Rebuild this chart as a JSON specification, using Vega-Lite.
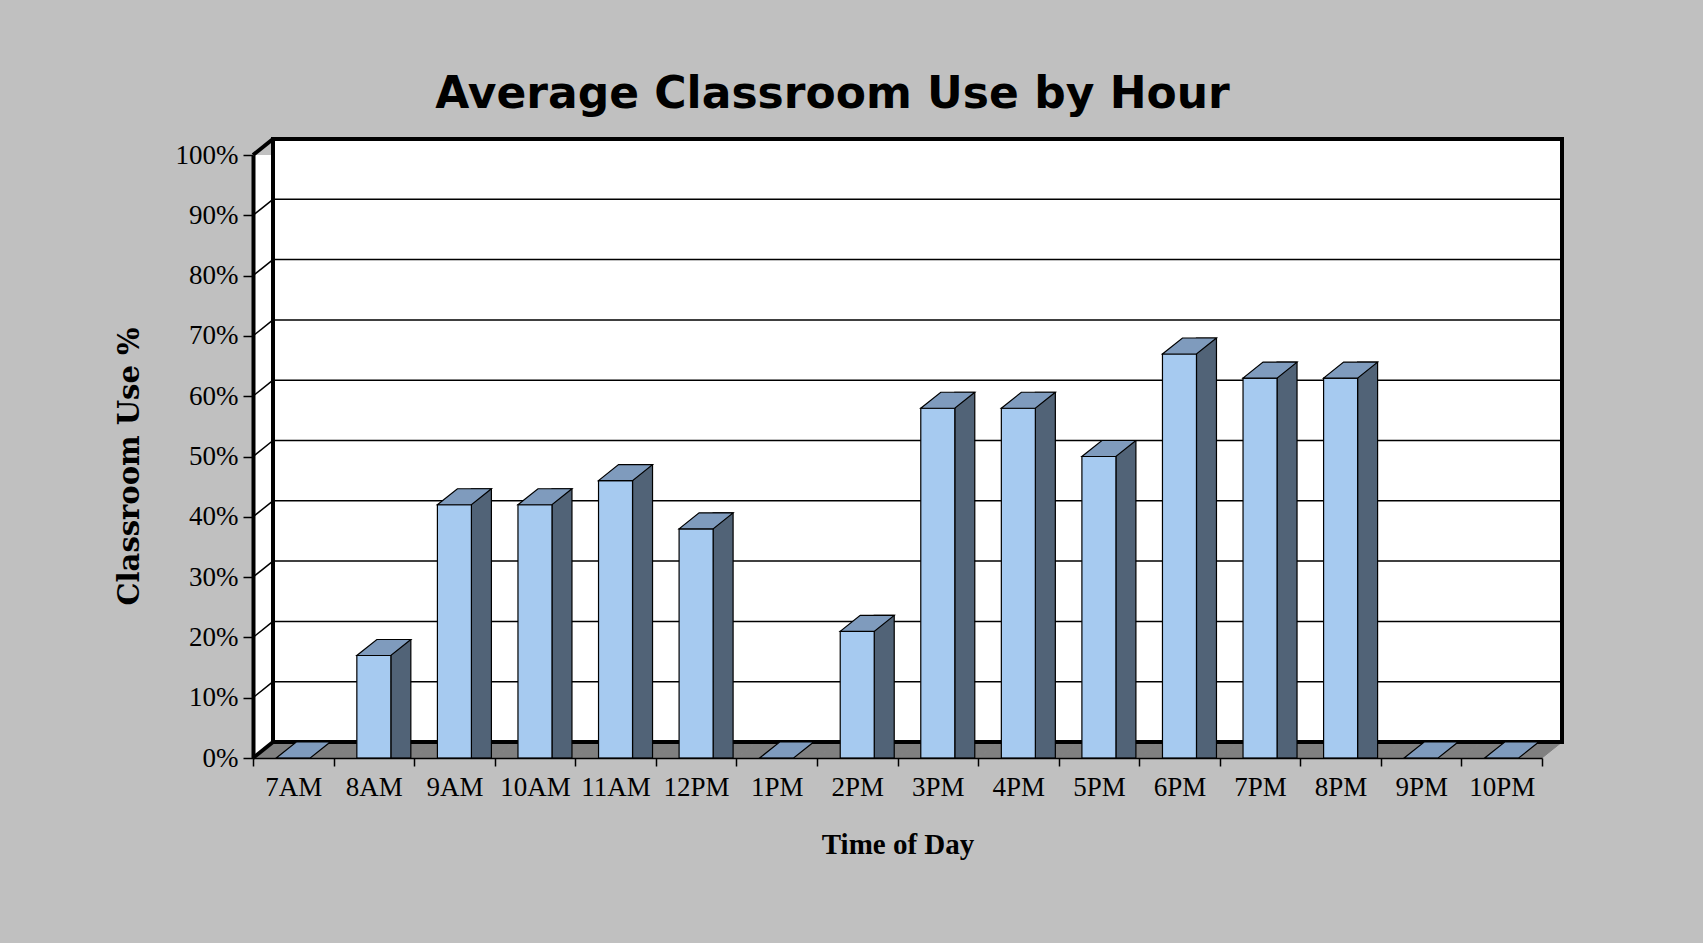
{
  "$schema": "https://vega.github.io/schema/vega-lite/v6.json",
  "autosize": {"type": "none"},
  "width": 1289,
  "height": 603,
  "padding": {"left": 253, "top": 155, "right": 161, "bottom": 185},
  "background": "#c0c0c0",
  "config": {"view": {"stroke": null}},
  "title": {
    "text": "Average Classroom Use by Hour",
    "font": "DejaVu Sans",
    "fontWeight": "bold",
    "fontSize": 44,
    "color": "#000000",
    "anchor": "middle",
    "dx": -65,
    "baseline": "alphabetic",
    "offset": -21
  },
  "datasets": {
    "usage": [
      {"hour": "7AM", "use": 0},
      {"hour": "8AM", "use": 0.17},
      {"hour": "9AM", "use": 0.42},
      {"hour": "10AM", "use": 0.42},
      {"hour": "11AM", "use": 0.46},
      {"hour": "12PM", "use": 0.38},
      {"hour": "1PM", "use": 0},
      {"hour": "2PM", "use": 0.21},
      {"hour": "3PM", "use": 0.58},
      {"hour": "4PM", "use": 0.58},
      {"hour": "5PM", "use": 0.5},
      {"hour": "6PM", "use": 0.67},
      {"hour": "7PM", "use": 0.63},
      {"hour": "8PM", "use": 0.63},
      {"hour": "9PM", "use": 0},
      {"hour": "10PM", "use": 0}
    ],
    "levels": [
      {"v": 0}, {"v": 0.1}, {"v": 0.2}, {"v": 0.3}, {"v": 0.4}, {"v": 0.5},
      {"v": 0.6}, {"v": 0.7}, {"v": 0.8}, {"v": 0.9}, {"v": 1}
    ],
    "wall": [{"lo": 0, "hi": 1}]
  },
  "encoding": {
    "x": {
      "field": "hour",
      "type": "nominal",
      "sort": null,
      "scale": {"domain": ["7AM","8AM","9AM","10AM","11AM","12PM","1PM","2PM","3PM","4PM","5PM","6PM","7PM","8PM","9PM","10PM"], "paddingInner": 0, "paddingOuter": 0},
      "axis": {
        "title": "Time of Day",
        "titleFont": "Liberation Serif",
        "titleFontWeight": "bold",
        "titleFontSize": 29,
        "titleColor": "#000000",
        "titlePadding": 30,
        "labelFont": "Liberation Serif",
        "labelFontSize": 27,
        "labelColor": "#000000",
        "labelAngle": 0,
        "labelPadding": 8,
        "tickBand": "extent",
        "tickColor": "#000000",
        "tickWidth": 1.5,
        "tickSize": 8,
        "domainColor": "#000000",
        "domainWidth": 1.5,
        "zindex": 1
      }
    }
  },
  "layer": [
    {
      "data": {"name": "wall"},
      "mark": {"type": "rect", "fill": "#ffffff", "strokeWidth": 0},
      "encoding": {
        "x": null,
        "y": {
          "field": "hi",
          "type": "quantitative",
          "scale": {"domain": [0, 1], "nice": false, "zero": true},
          "axis": {
            "values": [0,0.1,0.2,0.3,0.4,0.5,0.6,0.7,0.8,0.9,1],
            "format": ".0%",
            "title": "Classroom Use %",
            "titleFont": "DejaVu Serif",
            "titleFontWeight": "bold",
            "titleFontSize": 29,
            "titleColor": "#000000",
            "titlePadding": 31,
            "titleY": 311,
            "labelFont": "Liberation Serif",
            "labelFontSize": 27,
            "labelColor": "#000000",
            "labelPadding": 5,
            "tickColor": "#000000",
            "tickWidth": 1.5,
            "tickSize": 10,
            "domainColor": "#000000",
            "domainWidth": 4,
            "grid": false,
            "zindex": 1
          }
        },
        "y2": {"field": "lo"}
      }
    },
    {
      "data": {"name": "usage"},
      "mark": {"type": "point", "shape": "M -1 0.159 L 0.602 0.159 L 1 -0.159 L -0.602 -0.159 Z", "size": 10112, "filled": true, "fill": "#808080", "stroke": "#808080", "strokeWidth": 1, "opacity": 1, "xOffset": 10, "yOffset": -8},
      "encoding": {"y": {"datum": 0, "type": "quantitative"}}
    },
    {
      "data": {"name": "wall"},
      "mark": {"type": "rect", "fill": "#ffffff", "stroke": "#000000", "strokeWidth": 4, "xOffset": 20, "x2Offset": 20, "yOffset": -16, "y2Offset": -16},
      "encoding": {
        "x": {"datum": "7AM", "bandPosition": 0},
        "x2": {"datum": "10PM", "bandPosition": 1},
        "y": {"field": "hi", "type": "quantitative"},
        "y2": {"field": "lo"}
      }
    },
    {
      "data": {"name": "levels"},
      "transform": [{"filter": "datum.v > 0 && datum.v < 1"}],
      "mark": {"type": "rule", "color": "#000000", "strokeWidth": 1.5, "xOffset": 20, "x2Offset": 20, "yOffset": -16},
      "encoding": {
        "x": {"datum": "7AM", "bandPosition": 0},
        "x2": {"datum": "10PM", "bandPosition": 1},
        "y": {"field": "v", "type": "quantitative"}
      }
    },
    {
      "data": {"name": "levels"},
      "mark": {"type": "point", "shape": "M -1 0.8 L 1 -0.8", "size": 400, "filled": false, "stroke": "#000000", "opacity": 1, "xOffset": -30.28, "yOffset": -8},
      "encoding": {
        "x": {"datum": "7AM"},
        "y": {"field": "v", "type": "quantitative"},
        "strokeWidth": {"condition": {"test": "datum.v == 0 || datum.v == 1", "value": 4}, "value": 1.5}
      }
    },
    {
      "data": {"name": "usage"},
      "transform": [{"filter": "datum.use > 0"}],
      "mark": {"type": "bar", "width": 20, "fill": "#516377", "stroke": "#000000", "strokeWidth": 1.2, "xOffset": 27, "yOffset": -16},
      "encoding": {
        "y": {"field": "use", "type": "quantitative"},
        "y2": {"datum": 0}
      }
    },
    {
      "data": {"name": "usage"},
      "transform": [{"filter": "datum.use > 0"}],
      "mark": {"type": "bar", "width": 34, "fill": "#a6caf0", "stroke": "#000000", "strokeWidth": 1.2},
      "encoding": {
        "y": {"field": "use", "type": "quantitative"},
        "y2": {"datum": 0}
      }
    },
    {
      "data": {"name": "usage"},
      "mark": {"type": "point", "shape": "M -1 0.296 L 0.259 0.296 L 1 -0.296 L -0.259 -0.296 Z", "size": 2916, "filled": true, "fill": "#7f9bbd", "stroke": "#000000", "strokeWidth": 1.2, "opacity": 1, "xOffset": 10, "yOffset": -8},
      "encoding": {"y": {"field": "use", "type": "quantitative"}}
    }
  ]
}
